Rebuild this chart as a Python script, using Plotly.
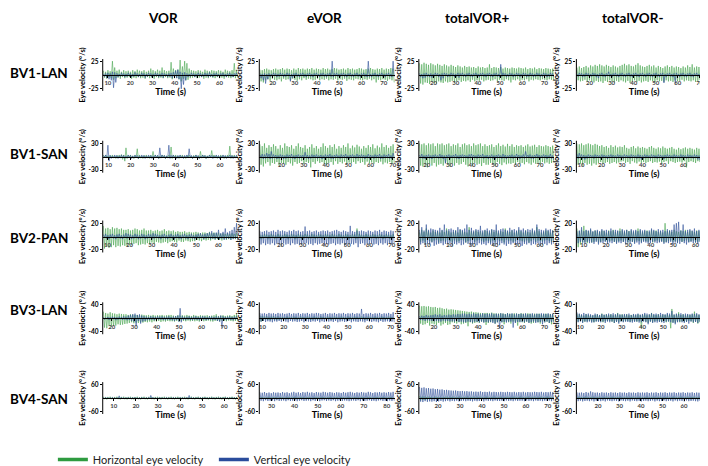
import plotly.graph_objects as go

# ---------------- data ----------------
conditions = ["VOR", "eVOR", "totalVOR+", "totalVOR-"]
subjects = ["BV1-LAN", "BV1-SAN", "BV2-PAN", "BV3-LAN", "BV4-SAN"]
y_limits = [25, 30, 20, 40, 60]          # y tick labels (+/-) per subject row
x_ranges = [                               # time axis span (s) of each panel
    [(7.7, 68.5), (14, 75), (13.4, 74.5), (14, 75.6)],
    [(7.4, 68.2), (10, 71), (16.5, 76.4), (7.7, 74)],
    [(7.9, 69), (10.5, 71.4), (6.3, 66.4), (6.7, 67.4)],
    [(16, 76.4), (8.5, 72), (13.2, 74.5), (8.2, 73.5)],
    [(5, 66.4), (24.7, 83.5), (11.3, 73), (10, 73)],
]
x_ticks = [10, 20, 30, 40, 50, 60, 70, 80]
y_label_text = "Eye velocity (°/s)"
x_label_text = "Time (s)"

# Eye-velocity peaks/troughs (°/s), ~2 samples per second
# ---- BV1-LAN ----
bv1lan_vor_h = [8,-5,6,-7,9,-4,7,-6,26,-9, 14,-6,8,-5,10,-7,6,-4,9,-6, 7,-5,8,-4,6,-7,9,-5,7,-6,
                10,-4,8,-6,7,-5,9,-7,6,-4, 8,-6,12,-5,9,-7,7,-4,10,-6, 8,-5,14,-6,9,-4,7,-6,8,-5,
                24,-8,12,-6,9,-5,10,-8,28,-12, 16,-7,26,-10,22,-9,12,-6,9,-5, 8,-4,7,-6,9,-5,8,-4,6,-7,
                10,-5,8,-6,7,-4,9,-5,8,-6, 7,-4,9,-6,8,-5,6,-7,10,-4, 8,-5,7,-6,9,-4,22,-6,8,-5]
bv1lan_vor_v = [2,-3,3,-5,4,-8,3,-10,6,-24, 5,-14,3,-4,2,-3,4,-2,3,-4, 2,-3,4,-2,3,-4,2,-3,5,-2,
                3,-4,2,-3,4,-2,3,-5,2,-3, 4,-2,3,-4,2,-3,4,-2,3,-4, 2,-3,4,-5,3,-2,2,-4,3,-3,
                4,-6,5,-4,8,-6,10,-8,6,-26, 4,-18,5,-10,3,-4,2,-3,4,-2, 3,-4,2,-3,4,-2,3,-4,2,-3,
                4,-2,3,-4,5,-3,2,-4,3,-2, 4,-3,2,-4,3,-2,4,-3,2,-4, 3,-2,4,-3,2,-4,3,-2,4,-3]
bv1lan_evor_h = [10,-12,9,-14,11,-10,12,-8,10,-11, 9,-7,11,-9,12,-10,10,-8,11,-12, 13,-7,10,-9,12,-8,11,-10,9,-7,
                 12,-9,10,-11,13,-8,11,-10,12,-6, 10,-9,12,-7,11,-8,13,-10,10,-9, 12,-7,11,-10,10,-8,13,-9,11,-7,
                 12,-10,10,-8,11,-9,13,-7,12,-10, 10,-8,11,-9,12,-7,10,-11,13,-8, 11,-9,12,-10,10,-7,11,-8,13,-9,
                 12,-10,10,-8,11,-9,12,-7,13,-10, 11,-8,10,-14,12,-9,11,-10,13,-8, 10,-9,12,-11,11,-8,13,-10,12,-14]
bv1lan_evor_v = [3,-6,2,-10,3,-16,2,-8,3,-4, 2,-3,4,-2,3,-4,2,-3,4,-2, 3,-4,2,-3,4,-2,3,-12,2,-5,
                 3,-2,4,-3,2,-4,3,-2,4,-3, 2,-4,3,-2,4,-3,2,-4,3,-2, 4,-3,2,-4,3,-2,4,-3,2,-4,
                 3,-2,4,-3,26,-4,3,-2,4,-3, 2,-4,3,-2,4,-3,2,-4,3,-2, 4,-3,2,-4,3,-2,4,-3,2,-4,
                 3,-2,4,-3,2,-4,26,-3,2,-4, 3,-2,4,-3,2,-4,3,-2,4,-3, 2,-4,3,-2,4,-3,2,-4,26,-3]
bv1lan_tvp_h = [22,-16,20,-18,23,-14,21,-15,19,-17, 22,-13,20,-15,18,-16,21,-12,19,-14, 17,-15,20,-12,18,-14,16,-13,19,-11,
                17,-14,15,-12,18,-10,16,-13,14,-11, 17,-12,15,-10,16,-13,14,-9,15,-12, 13,-10,16,-11,14,-9,15,-12,13,-10,
                14,-9,20,-11,13,-10,15,-8,14,-12, 13,-9,15,-10,12,-11,14,-8,13,-10, 12,-14,14,-9,13,-10,12,-8,14,-11,
                13,-9,12,-10,14,-8,11,-12,13,-9, 12,-10,14,-8,11,-9,13,-10,12,-8, 11,-9,13,-10,12,-8,11,-9,12,-10]
bv1lan_tvp_v = [3,-4,2,-6,3,-5,4,-3,2,-4, 3,-5,2,-3,4,-2,3,-4,2,-10, 3,-6,4,-2,3,-4,2,-3,4,-2,
                3,-4,2,-3,4,-5,3,-2,4,-3, 2,-4,3,-2,4,-3,2,-4,3,-2, 4,-3,2,-4,3,-2,4,-3,2,-4,
                3,-2,4,-3,2,-4,3,-2,4,-3, 2,-4,20,-3,4,-2,3,-4,2,-3, 4,-2,3,-4,2,-3,4,-2,3,-4,
                2,-3,4,-2,3,-4,2,-3,4,-2, 3,-4,2,-3,4,-2,3,-4,2,-3, 4,-2,3,-4,2,-3,4,-2,3,-4]
bv1lan_tvm_h = [14,-10,16,-12,13,-11,15,-9,17,-13, 14,-10,18,-12,16,-14,19,-11,17,-13, 20,-12,18,-15,16,-11,19,-13,17,-10,
                15,-12,18,-14,16,-11,14,-13,17,-10, 19,-12,21,-14,18,-11,20,-15,17,-12, 16,-10,19,-13,22,-11,18,-14,16,-12,
                15,-11,17,-13,19,-10,16,-12,18,-14, 14,-10,17,-12,15,-11,13,-13,16,-10, 18,-12,15,-11,17,-13,14,-10,16,-12,
                15,-11,13,-9,16,-12,14,-10,18,-11, 15,-12,20,-10,14,-13,16,-11,15,-9, 13,-12,16,-10,14,-11,15,-12,13,-10]
bv1lan_tvm_v = [2,-3,4,-2,3,-4,2,-3,4,-2, 3,-5,2,-3,4,-2,3,-4,2,-6, 3,-2,4,-3,2,-4,3,-2,6,-3,
                2,-4,3,-2,4,-3,2,-4,3,-2, 4,-3,2,-4,3,-2,4,-3,2,-4, 3,-2,4,-3,2,-4,3,-2,4,-3,
                2,-4,3,-2,4,-3,2,-4,3,-2, 4,-3,2,-4,3,-2,4,-15,2,-4, 3,-2,4,-3,2,-4,3,-16,4,-3,
                2,-4,3,-2,4,-3,2,-4,3,-2, 4,-3,2,-4,3,-2,4,-3,2,-4, 3,-2,4,-3,2,-4,3,-2,4,-3]

# ---- BV1-SAN ----
bv1san_vor_h = [3,-2,4,-3,2,-4,3,-2,4,-3, 2,-4,3,-2,4,-3,5,-6,4,-10, 20,-4,3,-2,4,-3,2,-4,3,-2,
                18,-5,4,-3,2,-4,3,-2,4,-3, 2,-4,3,-2,12,-3,4,-2,3,-4, 2,-3,4,-2,3,-4,2,-3,4,-2,
                22,-4,3,-2,4,-3,2,-4,3,-2, 4,-3,2,-4,3,-2,4,-3,2,-4, 3,-2,4,-3,2,-4,12,-3,4,-2,
                3,-4,2,-3,4,-2,14,-3,4,-2, 3,-4,2,-3,4,-2,3,-4,2,-3, 4,-2,24,-4,3,-2,4,-3,2,-4]
bv1san_vor_v = [3,-2,4,-3,26,-10,3,-4,2,-3, 4,-2,3,-4,2,-3,4,-2,3,-4, 2,-3,4,-2,3,-4,2,-3,4,-2,
                3,-4,2,-3,4,-2,3,-4,2,-3, 4,-2,3,-4,2,-3,4,-2,3,-4, 20,-3,4,-2,3,-4,2,-3,26,-4,
                3,-2,4,-3,2,-4,3,-2,4,-3, 2,-4,3,-2,4,-3,18,-2,3,-4, 2,-3,4,-2,3,-4,2,-3,4,-2,
                3,-4,2,-3,4,-2,3,-4,2,-3, 4,-2,3,-4,2,-3,4,-2,3,-4, 2,-3,4,-2,3,-4,2,-3,4,-2]
bv1san_evor_h = [28,-18,24,-22,30,-15,20,-12,26,-20, 22,-14,28,-16,24,-12,18,-20,26,-14, 20,-16,30,-18,24,-12,22,-15,26,-20,
                 18,-12,24,-16,30,-14,22,-10,20,-16, 26,-12,18,-14,22,-24,28,-12,20,-16, 24,-10,18,-14,22,-12,30,-16,24,-18,
                 20,-14,26,-12,22,-18,28,-10,18,-16, 24,-12,20,-15,26,-11,22,-17,30,-13, 19,-15,25,-12,21,-16,27,-10,23,-14,
                 18,-12,24,-18,20,-11,26,-15,22,-13, 28,-16,19,-12,25,-14,21,-11,30,-17, 22,-13,26,-15,20,-12,24,-16,28,-14]
bv1san_evor_v = [4,-3,6,-5,5,-4,8,-3,6,-5, 12,-4,5,-3,4,-5,3,-4,5,-3, 4,-5,3,-4,5,-3,4,-2,6,-4,
                 3,-5,4,-3,5,-4,3,-2,4,-5, 10,-3,4,-5,3,-4,5,-2,4,-3, 5,-4,3,-2,4,-5,3,-4,5,-3,
                 4,-2,6,-4,3,-5,4,-3,5,-2, 3,-4,5,-3,4,-2,6,-4,3,-5, 4,-3,5,-2,3,-4,6,-3,4,-2,
                 5,-3,4,-5,3,-2,6,-4,4,-3, 3,-4,5,-2,4,-3,6,-5,3,-4, 5,-3,4,-2,6,-4,3,-5,8,-3]
bv1san_tvp_h = [30,-20,28,-22,30,-18,26,-24,30,-16, 28,-20,30,-14,24,-22,30,-18,28,-16, 30,-20,26,-14,28,-18,30,-22,24,-16,
                28,-20,26,-14,30,-18,22,-16,28,-12, 30,-18,26,-22,28,-15,24,-20,30,-14, 26,-18,28,-16,30,-21,24,-14,28,-18,
                24,-18,26,-14,28,-16,22,-20,26,-12, 30,-16,24,-19,27,-13,23,-17,29,-15, 24,-16,28,-14,22,-18,26,-12,24,-16,
                26,-14,22,-17,25,-12,28,-15,23,-18, 25,-13,27,-16,22,-14,26,-17,24,-12, 23,-15,26,-13,24,-16,22,-14,25,-12]
bv1san_tvp_v = [4,-3,6,-4,3,-5,4,-3,5,-4, 3,-5,4,-3,5,-2,3,-4,6,-3, 4,-5,3,-15,4,-3,5,-4,3,-2,
                4,-3,6,-4,3,-5,4,-2,5,-3, 4,-2,3,-4,5,-3,6,-2,4,-3, 3,-4,5,-2,4,-3,6,-4,3,-2,
                4,-5,3,-2,5,-4,3,-6,4,-3, 5,-2,3,-4,6,-3,4,-5,3,-2, 4,-3,5,-4,3,-2,6,-3,4,-5,
                3,-2,5,-4,12,-3,4,-2,5,-4, 3,-5,4,-2,6,-3,4,-4,3,-2, 5,-3,4,-5,3,-2,6,-4,3,-8]
bv1san_tvm_h = [30,-18,28,-16,30,-20,26,-14,28,-18, 30,-16,28,-20,26,-15,29,-18,27,-14, 24,-12,26,-16,22,-14,24,-12,20,-16,
                26,-14,22,-12,25,-15,21,-13,23,-11, 22,-10,26,-14,20,-12,18,-16,22,-10, 24,-13,19,-15,23,-11,20,-14,22,-12,
                20,-14,18,-12,22,-10,24,-14,20,-12, 18,-13,21,-11,19,-15,23,-12,20,-10, 18,-16,20,-10,22,-12,18,-14,16,-12,
                20,-11,17,-13,19,-10,21,-24,18,-12, 20,-10,18,-12,16,-14,20,-10,18,-12, 17,-13,19,-11,16,-12,18,-10,20,-13]
bv1san_tvm_v = [6,-4,8,-3,5,-4,4,-6,3,-4, 5,-3,4,-2,3,-4,5,-3,4,-2, 3,-4,5,-3,4,-2,3,-5,4,-3,
                5,-2,4,-3,3,-4,5,-2,4,-3, 3,-4,5,-3,4,-2,3,-4,5,-3, 4,-2,3,-4,5,-3,4,-6,3,-4,
                5,-3,4,-2,3,-4,5,-3,4,-2, 3,-4,5,-3,4,-2,3,-5,4,-3, 5,-2,4,-3,3,-4,5,-2,4,-3,
                3,-4,5,-3,4,-2,3,-4,5,-3, 4,-2,3,-4,5,-3,4,-6,3,-8, 4,-10,3,-6,5,-4,8,-12,4,-20]

# ---- BV2-PAN ----
bv2pan_vor_h = [16,-18,12,-15,13,-17,11,-16,14,-13, 12,-16,13,-14,11,-15,12,-13,10,-14, 10,-14,11,-12,9,-13,10,-11,12,-10,
                11,-13,9,-12,10,-11,12,-12,9,-10, 9,-12,10,-9,8,-11,9,-8,10,-9, 8,-10,9,-9,11,-8,8,-10,9,-8,
                8,-7,9,-8,7,-9,8,-6,7,-8, 7,-8,8,-6,6,-7,7,-8,6,-7, 6,-7,7,-5,6,-6,5,-7,6,-5,
                6,-6,5,-5,7,-6,5,-4,6,-5, 5,-4,6,-5,4,-6,5,-4,4,-5, 5,-4,4,-5,5,-3,4,-4,5,-4]
bv2pan_vor_v = [3,-2,4,-3,2,-4,3,-2,4,-3, 2,-4,3,-2,4,-3,2,-4,3,-2, 5,-3,4,-2,3,-4,2,-3,4,-2,
                3,-4,2,-3,4,-2,3,-4,2,-3, 4,-2,3,-4,5,-3,4,-2,3,-3, 2,-4,3,-2,4,-3,2,-4,3,-2,
                4,-3,2,-4,3,-2,4,-3,2,-4, 3,-2,4,-3,2,-4,3,-2,4,-3, 2,-4,3,-2,4,-3,5,-2,3,-4,
                4,-3,5,-2,6,-4,8,-3,5,-4, 6,-3,10,-4,5,-3,7,-5,12,-4, 6,-3,8,-5,10,-4,14,-3,20,-6]
bv2pan_evor_h = [3,-4,2,-3,4,-2,3,-4,2,-3, 4,-2,3,-4,2,-3,4,-2,3,-4, 2,-3,4,-2,3,-4,2,-3,4,-2,
                 3,-4,2,-3,4,-2,3,-4,2,-3, 4,-2,3,-4,2,-3,4,-2,3,-4, 2,-3,4,-2,3,-4,2,-3,4,-2,
                 3,-4,2,-3,4,-2,3,-4,2,-3, 4,-2,3,-4,2,-3,4,-2,3,-4, 2,-3,4,-2,3,-4,12,-3,4,-2,
                 3,-4,2,-3,4,-2,3,-4,2,-3, 4,-2,3,-4,2,-3,4,-2,3,-4, 2,-3,4,-2,3,-4,2,-3,4,-2]
bv2pan_evor_v = [8,-12,7,-10,8,-13,9,-11,7,-12, 8,-10,9,-13,7,-11,10,-12,8,-14, 9,-10,8,-12,7,-11,9,-13,8,-10,
                 10,-12,8,-11,9,-13,7,-12,8,-10, 15,-10,8,-12,9,-11,7,-13,8,-10, 9,-12,7,-11,8,-10,9,-13,8,-11,
                 9,-12,7,-11,8,-10,9,-13,10,-11, 8,-12,7,-10,9,-14,8,-11,7,-12, 16,-11,8,-12,7,-10,9,-16,8,-11,
                 9,-10,8,-13,7,-11,9,-12,8,-10, 7,-12,9,-11,8,-13,10,-10,7,-12, 9,-10,8,-13,7,-11,9,-12,8,-10]
bv2pan_tvp_h = [6,-8,10,-6,7,-9,12,-5,8,-7, 6,-8,9,-6,7,-5,8,-9,6,-7, 9,-6,7,-8,12,-5,8,-7,6,-9,
                7,-6,9,-8,6,-7,10,-5,8,-6, 7,-9,6,-7,14,-6,8,-5,7,-8, 9,-6,7,-5,8,-7,6,-8,9,-6,
                8,-7,6,-9,10,-6,7,-8,9,-5, 6,-7,8,-6,7,-9,12,-5,8,-7, 7,-6,9,-8,6,-7,8,-5,10,-6,
                8,-7,6,-8,9,-6,7,-9,6,-7, 9,-5,7,-8,14,-6,8,-7,6,-8, 7,-6,9,-5,8,-7,6,-8,9,-6]
bv2pan_tvp_v = [10,-12,14,-10,9,-13,18,-11,10,-12, 12,-9,11,-14,10,-12,9,-11,13,-10, 10,-13,18,-11,9,-12,11,-10,12,-14,
                10,-11,9,-12,14,-10,11,-13,10,-12, 12,-9,18,-11,10,-14,13,-12,9,-11, 11,-13,10,-10,16,-12,9,-11,10,-13,
                12,-10,9,-12,11,-14,10,-11,18,-12, 9,-13,11,-10,12,-12,10,-14,9,-11, 13,-12,10,-10,11,-13,9,-12,14,-11,
                10,-14,12,-11,9,-12,11,-10,10,-13, 12,-11,9,-12,18,-10,11,-14,10,-12, 9,-11,12,-13,10,-10,11,-12,9,-11]
bv2pan_tvm_h = [12,-16,8,-12,10,-9,16,-8,9,-10, 8,-7,10,-9,7,-8,9,-6,8,-9, 7,-8,9,-6,8,-7,6,-8,9,-7,
                8,-6,10,-8,7,-9,8,-7,12,-6, 9,-8,7,-6,10,-9,8,-7,9,-8, 7,-9,8,-6,12,-7,9,-8,7,-6,
                8,-7,9,-8,7,-6,10,-9,8,-7, 9,-6,7,-8,8,-7,6,-9,20,-8, 8,-7,9,-6,7,-8,10,-7,8,-9,
                7,-6,9,-8,8,-7,10,-6,7,-8, 9,-7,8,-6,7,-9,9,-8,8,-6, 10,-7,7,-8,9,-6,8,-7,7,-8]
bv2pan_tvm_v = [8,-10,9,-8,14,-9,8,-11,10,-8, 9,-10,12,-9,8,-11,9,-8,10,-12, 8,-9,11,-10,9,-8,10,-11,8,-9,
                12,-10,9,-8,10,-11,9,-9,8,-10, 11,-8,9,-12,10,-9,8,-10,11,-8, 9,-11,10,-9,8,-12,11,-10,9,-8,
                10,-9,8,-11,9,-10,12,-8,10,-9, 8,-10,11,-9,9,-8,10,-11,8,-9, 11,-10,9,-8,10,-12,18,-9,20,-10,
                22,-11,9,-8,18,-10,8,-12,10,-9, 11,-8,9,-10,12,-9,8,-11,10,-8, 9,-12,11,-9,8,-10,10,-8,11,-9]

# ---- BV3-LAN ----
bv3lan_vor_h = [20,-28,16,-30,14,-22,18,-26,15,-24, 14,-22,12,-18,14,-20,13,-19,12,-17, 12,-16,10,-14,12,-12,11,-15,10,-13,
                10,-14,9,-12,11,-13,10,-11,9,-12, 10,-10,8,-12,10,-9,8,-10,9,-8, 9,-11,10,-9,8,-10,9,-8,10,-9,
                10,-9,8,-10,7,-8,9,-10,8,-7, 9,-8,8,-9,10,-7,8,-9,7,-8, 10,-9,8,-8,7,-10,9,-7,8,-9,
                8,-8,9,-7,7,-9,8,-10,9,-8, 12,-8,7,-9,8,-7,9,-8,7,-9, 8,-7,9,-8,7,-9,10,-8,12,-9]
bv3lan_vor_v = [3,-4,2,-3,4,-5,3,-4,5,-3, 4,-6,3,-4,5,-3,4,-5,6,-4, 5,-6,8,-5,10,-8,12,-10,14,-24,
                10,-8,12,-16,8,-10,6,-8,5,-6, 4,-5,6,-4,5,-6,4,-5,6,-4, 5,-4,6,-5,4,-6,5,-4,6,-5,
                4,-6,5,-8,6,-5,8,-10,30,-12, 6,-5,4,-6,5,-4,6,-5,4,-6, 5,-4,6,-5,4,-6,5,-8,6,-4,
                5,-6,4,-5,6,-4,5,-6,4,-5, 6,-8,5,-10,8,-28,6,-5,4,-6, 5,-4,6,-5,4,-6,5,-4,6,-5]
bv3lan_evor_h = [8,-10,6,-8,5,-4,6,-5,4,-6, 5,-4,6,-5,4,-6,5,-4,3,-5, 4,-5,3,-4,5,-3,4,-2,3,-4,
                 5,-3,4,-5,3,-4,5,-3,4,-2, 3,-4,5,-3,4,-5,3,-4,5,-3, 4,-5,3,-4,5,-3,4,-2,3,-4,
                 5,-3,4,-5,3,-4,5,-3,4,-2, 3,-4,5,-3,4,-5,3,-4,5,-3, 4,-5,3,-4,5,-3,4,-2,3,-4,
                 5,-3,4,-5,3,-4,5,-3,4,-2, 3,-4,5,-3,4,-5,3,-4,5,-3, 4,-5,3,-4,5,-3,4,-2,3,-4]
bv3lan_evor_v = [16,-10,14,-8,15,-11,13,-9,16,-10, 14,-12,15,-9,13,-10,16,-8,14,-11, 15,-9,13,-10,14,-12,16,-8,13,-10,
                 15,-9,14,-11,16,-10,13,-8,15,-12, 14,-9,16,-10,13,-11,15,-9,14,-10, 16,-8,15,-12,13,-9,14,-11,16,-10,
                 13,-10,15,-9,14,-11,16,-8,13,-12, 15,-10,14,-9,16,-11,13,-10,15,-8, 14,-12,16,-9,13,-10,15,-11,14,-9,
                 28,-10,13,-12,15,-8,14,-10,16,-11, 13,-9,15,-10,14,-12,16,-8,13,-11, 15,-10,14,-9,16,-11,13,-10,18,-12]
bv3lan_tvp_h = [38,-16,36,-20,37,-18,35,-14,36,-22, 34,-16,33,-18,34,-20,31,-14,32,-22, 30,-18,28,-14,29,-20,26,-18,27,-12,
                26,-14,25,-16,24,-12,23,-18,22,-16, 21,-14,20,-24,19,-12,20,-16,18,-14, 18,-12,17,-14,16,-10,15,-12,16,-20,
                16,-14,15,-12,17,-10,15,-16,14,-12, 14,-10,15,-12,14,-18,13,-10,15,-12, 14,-16,13,-10,15,-12,14,-22,13,-10,
                15,-12,14,-14,13,-10,15,-13,14,-16, 12,-14,14,-10,13,-12,14,-16,12,-10, 13,-12,14,-10,12,-14,13,-18,12,-10]
bv3lan_tvp_v = [6,-5,8,-6,7,-8,10,-6,8,-7, 9,-8,10,-9,12,-8,10,-9,12,-10, 8,-7,10,-9,9,-8,11,-10,10,-9,
                12,-10,11,-9,13,-11,12,-10,14,-12, 14,-12,12,-10,14,-11,12,-13,15,-10, 13,-11,14,-12,12,-10,15,-13,13,-11,
                14,-12,13,-11,15,-14,12,-16,14,-12, 13,-30,15,-12,14,-11,12,-13,15,-10, 13,-10,15,-28,12,-14,14,-11,13,-12,
                14,-11,13,-12,15,-10,12,-14,13,-12, 15,-10,12,-14,14,-12,13,-11,15,-18, 14,-12,13,-10,15,-14,12,-11,14,-13]
bv3lan_tvm_h = [14,-10,12,-8,10,-12,8,-10,12,-9, 10,-8,9,-10,8,-12,10,-9,12,-8, 9,-10,14,-12,10,-9,12,-8,10,-8,
                12,-10,9,-14,11,-10,16,-12,10,-9, 12,-10,10,-9,12,-8,9,-11,10,-9, 11,-8,9,-10,12,-9,10,-30,11,-8,
                12,-10,9,-14,11,-10,16,-12,10,-9, 10,-8,12,-10,9,-11,11,-8,10,-12, 12,-9,10,-30,28,-12,10,-14,12,-10,
                18,-12,10,-9,12,-11,9,-10,11,-8, 10,-9,12,-14,20,-10,12,-16,10,-12, 9,-10,12,-8,10,-14,11,-10,12,-30]
bv3lan_tvm_v = [18,-12,14,-10,12,-14,16,-10,13,-12, 14,-10,12,-13,10,-12,14,-10,12,-11, 10,-12,13,-10,11,-14,12,-10,14,-12,
                12,-10,15,-14,12,-11,14,-16,12,-10, 11,-12,13,-10,12,-11,14,-12,10,-13, 13,-11,12,-10,14,-13,11,-12,13,-10,
                16,-12,14,-18,12,-10,15,-14,13,-12, 14,-13,12,-11,16,-12,13,-14,12,-10, 16,-10,14,-12,22,-14,12,-18,14,-12,
                13,-10,15,-12,12,-14,14,-11,13,-16, 12,-10,14,-12,13,-11,15,-14,12,-10, 14,-12,13,-10,12,-14,15,-11,13,-12]

# ---- BV4-SAN ----
bv4san_vor_h = [6,-5,4,-6,5,-4,6,-5,4,-6, 5,-4,6,-5,4,-6,5,-4,6,-5, 4,-6,5,-4,6,-5,4,-6,5,-4,
                6,-5,4,-6,5,-4,6,-5,4,-6, 5,-4,6,-5,4,-6,5,-4,6,-5, 4,-6,5,-4,6,-5,4,-6,5,-4,
                6,-5,4,-6,5,-4,6,-5,4,-6, 5,-4,6,-5,4,-6,5,-4,6,-5, 4,-6,5,-4,6,-5,4,-6,5,-4,
                6,-5,4,-6,5,-4,6,-5,4,-6, 5,-4,6,-5,4,-6,5,-4,6,-5, 4,-6,5,-4,6,-5,4,-6,5,-4]
bv4san_vor_v = [2,-2,3,-2,2,-3,2,-2,3,-2, 2,-3,2,-2,10,-2,3,-2,2,-3, 2,-2,3,-2,2,-3,2,-2,3,-2,
                2,-3,2,-2,3,-2,2,-3,2,-2, 3,-2,12,-2,3,-2,2,-3,2,-2, 3,-2,2,-3,2,-2,3,-2,2,-3,
                2,-2,3,-2,2,-3,2,-2,3,-2, 2,-3,2,-2,3,-2,12,-2,3,-2, 2,-3,2,-2,3,-2,2,-3,2,-2,
                3,-2,2,-3,2,-2,3,-2,2,-3, 2,-2,3,-2,2,-3,2,-2,3,-2, 2,-3,2,-2,3,-2,2,-3,2,-2]
bv4san_evor_h = [4,-3,5,-4,3,-5,4,-3,5,-4, 3,-4,5,-3,4,-5,3,-4,5,-3, 4,-5,3,-4,5,-3,4,-4,3,-5,
                 5,-3,4,-5,3,-4,5,-3,4,-4, 3,-5,4,-3,5,-4,3,-5,4,-3, 5,-4,3,-5,4,-3,5,-4,3,-5,
                 4,-3,5,-4,3,-5,4,-3,5,-4, 3,-4,5,-3,4,-5,3,-4,5,-3, 4,-5,3,-4,5,-3,4,-4,3,-5,
                 5,-3,4,-5,3,-4,5,-3,4,-4, 3,-5,4,-3,5,-4,3,-5,4,-3, 5,-4,3,-5,4,-3,5,-4,3,-5]
bv4san_evor_v = [26,-12,24,-14,27,-10,23,-13,25,-12, 22,-11,26,-14,24,-10,25,-13,23,-12, 27,-11,24,-14,26,-10,22,-13,25,-12,
                 28,-11,24,-14,26,-12,23,-10,27,-13, 25,-12,28,-11,24,-14,26,-10,23,-13, 27,-12,25,-14,24,-11,28,-10,26,-13,
                 24,-11,27,-13,25,-10,23,-14,26,-12, 25,-10,23,-13,27,-11,24,-12,26,-14, 28,-12,25,-11,23,-13,26,-10,24,-14,
                 27,-11,25,-13,24,-12,28,-10,26,-13, 23,-12,26,-14,25,-11,27,-10,24,-13, 26,-12,24,-14,27,-11,25,-13,28,-12]
bv4san_tvp_h = [8,-10,6,-8,7,-9,5,-7,6,-5, 5,-6,4,-5,6,-4,5,-6,4,-5, 4,-6,5,-4,6,-5,4,-6,5,-4,
                6,-5,4,-6,5,-4,6,-5,4,-6, 5,-4,6,-5,4,-6,5,-4,6,-5, 4,-6,5,-4,6,-5,4,-6,5,-4,
                6,-5,4,-6,5,-4,6,-5,4,-6, 5,-4,6,-5,4,-6,5,-4,6,-5, 4,-6,5,-4,6,-5,4,-6,5,-4,
                6,-5,4,-6,5,-4,6,-5,4,-6, 5,-4,6,-5,4,-6,5,-4,6,-5, 4,-6,5,-4,6,-5,4,-6,5,-4]
bv4san_tvp_v = [50,-16,46,-18,48,-14,44,-17,45,-15, 42,-16,43,-14,40,-18,41,-15,38,-13, 39,-16,36,-14,37,-12,35,-15,34,-13,
                33,-14,34,-12,32,-15,31,-13,32,-12, 30,-14,31,-12,29,-13,30,-15,28,-12, 29,-14,28,-13,30,-12,27,-15,28,-11,
                27,-13,29,-12,26,-14,28,-11,27,-13, 26,-13,28,-12,27,-14,26,-11,28,-13, 27,-12,26,-14,28,-11,25,-13,27,-12,
                26,-12,28,-14,25,-11,27,-13,26,-12, 26,-14,28,-11,27,-13,26,-12,28,-14, 25,-12,27,-13,26,-11,28,-14,26,-12]
bv4san_tvm_h = [5,-4,6,-5,4,-6,5,-4,6,-5, 4,-6,5,-4,6,-5,4,-6,5,-4, 6,-5,4,-6,5,-4,6,-5,4,-6,
                5,-4,6,-5,4,-6,5,-4,6,-5, 4,-6,5,-4,6,-5,4,-6,5,-4, 6,-5,4,-6,5,-4,6,-5,4,-6,
                5,-4,6,-5,4,-6,5,-4,6,-5, 4,-6,5,-4,6,-5,4,-6,5,-4, 6,-5,4,-6,5,-4,6,-5,4,-6,
                5,-4,6,-5,4,-6,5,-4,6,-5, 4,-6,5,-4,6,-5,4,-6,5,-4, 6,-5,4,-6,5,-4,6,-5,4,-6]
bv4san_tvm_v = [26,-14,24,-12,25,-15,23,-13,27,-12, 24,-14,30,-11,26,-15,24,-12,25,-13, 23,-14,26,-12,24,-15,25,-11,23,-13,
                26,-14,24,-12,25,-13,23,-15,26,-11, 24,-13,25,-14,23,-12,26,-15,24,-11, 25,-13,23,-14,26,-12,24,-15,25,-13,
                24,-12,26,-14,23,-13,25,-11,24,-15, 26,-12,23,-14,25,-13,24,-11,26,-14, 23,-13,25,-12,24,-15,26,-11,23,-14,
                25,-12,24,-13,26,-15,23,-11,25,-14, 24,-13,26,-12,23,-14,25,-15,24,-12, 26,-13,23,-14,25,-11,24,-15,26,-13]

horizontal = [
    [bv1lan_vor_h, bv1lan_evor_h, bv1lan_tvp_h, bv1lan_tvm_h],
    [bv1san_vor_h, bv1san_evor_h, bv1san_tvp_h, bv1san_tvm_h],
    [bv2pan_vor_h, bv2pan_evor_h, bv2pan_tvp_h, bv2pan_tvm_h],
    [bv3lan_vor_h, bv3lan_evor_h, bv3lan_tvp_h, bv3lan_tvm_h],
    [bv4san_vor_h, bv4san_evor_h, bv4san_tvp_h, bv4san_tvm_h],
]
vertical = [
    [bv1lan_vor_v, bv1lan_evor_v, bv1lan_tvp_v, bv1lan_tvm_v],
    [bv1san_vor_v, bv1san_evor_v, bv1san_tvp_v, bv1san_tvm_v],
    [bv2pan_vor_v, bv2pan_evor_v, bv2pan_tvp_v, bv2pan_tvm_v],
    [bv3lan_vor_v, bv3lan_evor_v, bv3lan_tvp_v, bv3lan_tvm_v],
    [bv4san_vor_v, bv4san_evor_v, bv4san_tvp_v, bv4san_tvm_v],
]

# ---------------- styling / layout ----------------
W, H = 708, 466
FONT = "Lato"
GREEN = "#48a651"
BLUE = "#2d4f99"
LEGEND_GREEN = "#2e9b40"
LEGEND_BLUE = "#2a4c9c"
col_left = [95, 252, 412, 570]
col_w = 136
row_zero = [68, 151, 232, 315, 396]
row_label_y = [66, 148, 233, 307, 397]
col_title_x = [155, 317, 470, 626]
px_per_lim = 13.5
span = 1.6      # visible y extent as multiple of the tick limit
spine = 1.2     # vertical axis line extent

fig = go.Figure()
layout = dict(shapes=[], annotations=[])

for r in range(5):
    L = y_limits[r]
    z = row_zero[r]
    half = span * px_per_lim
    for c in range(4):
        n = r * 4 + c + 1
        xa = "x" if n == 1 else f"x{n}"
        ya = "y" if n == 1 else f"y{n}"
        xs, xe = x_ranges[r][c]
        for vals, col in ((horizontal[r][c], GREEN), (vertical[r][c], BLUE)):
            fig.add_trace(go.Scatter(
                y=vals, x0=xs + 0.3, dx=(xe - xs - 0.6) / (len(vals) - 1), mode="lines",
                line=dict(color=col, width=0.6), xaxis=xa, yaxis=ya,
                showlegend=False, hoverinfo="skip"))
        ticks = [t for t in x_ticks if xs + 0.5 < t < xe - 0.5]
        layout["xaxis" if n == 1 else f"xaxis{n}"] = dict(
            domain=[col_left[c] / W, (col_left[c] + col_w) / W],
            range=[xs, xe], anchor="free", position=1 - z / H,
            showline=True, linecolor="black", linewidth=1.3,
            ticks="outside", ticklen=2, tickwidth=0.8, tickcolor="black",
            tickvals=ticks,
            tickfont=dict(family=FONT, size=6, color="#444", weight="bold"),
            showgrid=False, zeroline=False,
            title=dict(text=x_label_text, standoff=1,
                       font=dict(family=FONT, size=9, color="black", weight="bold")),
        )
        layout["yaxis" if n == 1 else f"yaxis{n}"] = dict(
            domain=[1 - (z + half) / H, 1 - (z - half) / H],
            range=[-span * L, span * L], anchor=xa,
            showline=False, showgrid=False, zeroline=False,
            ticks="outside", ticklen=2, tickwidth=0.8, tickcolor="black",
            tickvals=[-L, L], ticktext=[f"-{L}", f"{L}"],
            tickfont=dict(family=FONT, size=6.5, color="black", weight="bold"),
            title=dict(text=y_label_text, standoff=1,
                       font=dict(family=FONT, size=7.5, color="black", weight="bold")),
        )
        layout["shapes"].append(dict(
            type="line", xref=f"{xa} domain", yref=ya, x0=0, x1=0,
            y0=-spine * L, y1=spine * L, line=dict(color="black", width=1)))

for c, name in enumerate(conditions):
    layout["annotations"].append(dict(
        text=name, x=col_title_x[c] / W, y=1 - 10 / H, xref="paper", yref="paper",
        showarrow=False, xanchor="center", yanchor="middle",
        font=dict(family=FONT, size=13.5, color="black", weight="bold")))
for r, name in enumerate(subjects):
    layout["annotations"].append(dict(
        text=name, x=0, y=1 - row_label_y[r] / H, xref="paper", yref="paper",
        showarrow=False, xanchor="left", yanchor="middle",
        font=dict(family=FONT, size=13.5, color="black", weight="bold")))

# legend entries
fig.add_trace(go.Scatter(x=[None], y=[None], mode="lines", name="Horizontal eye velocity",
                         line=dict(color=LEGEND_GREEN, width=3.5), showlegend=True))
fig.add_trace(go.Scatter(x=[None], y=[None], mode="lines", name="Vertical eye velocity",
                         line=dict(color=LEGEND_BLUE, width=3.5), showlegend=True))

fig.update_layout(
    width=W, height=H, margin=dict(l=0, r=0, t=0, b=0),
    paper_bgcolor="white", plot_bgcolor="white",
    legend=dict(orientation="h", x=45 / W, y=1 - 444 / H, xanchor="left", yanchor="top",
                font=dict(family=FONT, size=11, color="#222"), itemwidth=30,
                entrywidth=116, bgcolor="rgba(0,0,0,0)"),
    **layout,
)

fig.write_html("out.html")
